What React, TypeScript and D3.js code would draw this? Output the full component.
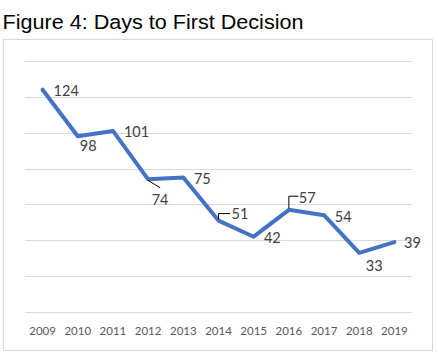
import React from "react";
import * as d3 from "d3";

const years = ["2009", "2010", "2011", "2012", "2013", "2014", "2015", "2016", "2017", "2018", "2019"];
const days = [124, 98, 101, 74, 75, 51, 42, 57, 54, 33, 39];
const yTicks = [0, 20, 40, 60, 80, 100, 120, 140];

// label placement (layout only): offset of text start / baseline from the point
const labelDx = [11, 2, 11, 3.5, 10.6, 13, 10.2, 10, 10.8, 6.6, 9.7];
const labelDy = [6.4, 15, 6, 26, 6.7, -2, 6.7, -7.3, 6.7, 18.3, 6.3];

const W = 438;
const H = 356;
const plot = { left: 25, right: 412, top: 61, bottom: 312 };

export default function App() {
  const x = d3.scaleBand<string>().domain(years).range([plot.left, plot.right]);
  const y = d3.scaleLinear().domain([0, 140]).range([plot.bottom, plot.top]);
  const cx = (i: number) => (x(years[i]) as number) + x.bandwidth() / 2;
  const cy = (i: number) => y(days[i]);

  const line = d3
    .line<number>()
    .x((_, i) => cx(i))
    .y((d) => y(d));

  const leaders: string[] = [];
  {
    const px = cx(3), py = cy(3);
    leaders.push(`M${px},${py + 1}L${px + 12},${py + 8.5}`);
  }
  {
    const px = cx(5), py = cy(5);
    leaders.push(`M${px},${py - 1}L${px},${py - 7}L${px + 11.5},${py - 7}`);
  }
  {
    const px = cx(7), py = cy(7);
    leaders.push(`M${px},${py - 1.5}L${px},${py - 13.6}L${px + 9.5},${py - 13.6}`);
  }

  return (
    <svg
      width={W}
      height={H}
      style={{ position: "absolute", left: 0, top: 0, background: "#fff" }}
    >
      <text
        x={2.5}
        y={29.3}
        fontFamily="'Liberation Sans', Arial, sans-serif"
        fontSize={20.5}
        textLength={301}
        lengthAdjust="spacingAndGlyphs"
        fill="#000"
      >
        Figure 4: Days to First Decision
      </text>
      <rect x={3.5} y={39.5} width={429} height={311} fill="#fff" stroke="#d9d9d9" strokeWidth={1} />
      {yTicks.map((t) => (
        <line
          key={t}
          x1={plot.left}
          x2={plot.right}
          y1={Math.round(y(t)) + 0.5}
          y2={Math.round(y(t)) + 0.5}
          stroke="#d9d9d9"
          strokeWidth={1}
        />
      ))}
      {years.map((yr, i) => (
        <text
          key={yr}
          x={cx(i)}
          y={334.5}
          textAnchor="middle"
          fontFamily="Lato, 'Noto Sans', sans-serif"
          fontSize={11.5}
          fill="#595959"
        >
          {yr}
        </text>
      ))}
      <path
        d={line(days) || ""}
        fill="none"
        stroke="#4472C4"
        strokeWidth={4}
        strokeLinejoin="round"
        strokeLinecap="round"
      />
      {leaders.map((d, i) => (
        <path key={i} d={d} fill="none" stroke="#000" strokeWidth={1} />
      ))}
      {days.map((v, i) => (
        <text
          key={i}
          x={cx(i) + labelDx[i]}
          y={cy(i) + labelDy[i]}
          fontFamily="Lato, 'Noto Sans', sans-serif"
          fontSize={14.5}
          fill="#404040"
        >
          {v}
        </text>
      ))}
    </svg>
  );
}
